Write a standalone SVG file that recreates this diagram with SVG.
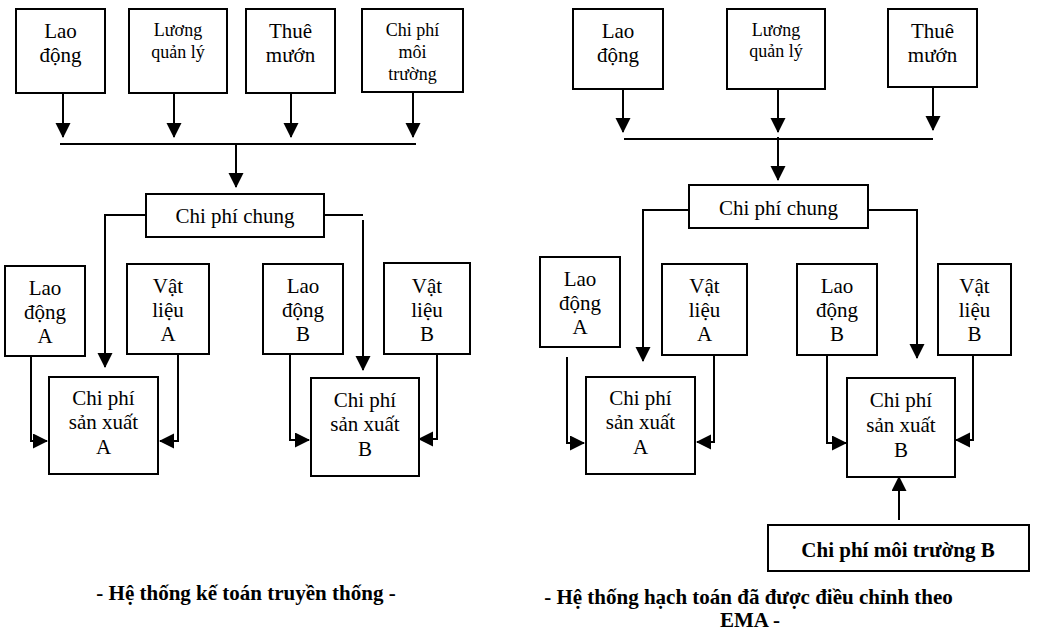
<svg xmlns="http://www.w3.org/2000/svg" width="1038" height="632" viewBox="0 0 1038 632" font-family="'Liberation Serif', 'Times New Roman', Tinos, 'DejaVu Serif', serif">
<style>
.box{fill:#fff;stroke:#000;stroke-width:2}
.ln{fill:none;stroke:#000;stroke-width:2}
.arr{marker-end:url(#ah)}
text{font-family:'Liberation Serif', 'Times New Roman', Tinos, 'DejaVu Serif', serif;fill:#000;text-anchor:middle}
.t21{font-size:21px}
.t18{font-size:18px}
.b{font-size:21px;font-weight:bold}
</style>
<defs>
<marker id="ah" markerUnits="userSpaceOnUse" markerWidth="16" markerHeight="16" refX="14" refY="7.5" orient="auto">
<path d="M0,0 L15,7.5 L0,15 z" fill="#000"/>
</marker>
</defs>
<rect width="1038" height="632" fill="#fff"/>

<g id="connectors">
<path class="ln arr" d="M63,93 V137"/>
<path class="ln arr" d="M174,93 V137"/>
<path class="ln arr" d="M291,93 V137"/>
<path class="ln arr" d="M413,92 V137"/>
<path class="ln" d="M60,144 H416"/>
<path class="ln arr" d="M236,144 V187"/>
<path class="ln arr" d="M146,215 H105 V367"/>
<path class="ln" d="M324,215 H363"/>
<path class="ln arr" d="M363,220 V370"/>
<path class="ln arr" d="M31,356 V441 H47"/>
<path class="ln arr" d="M178,354 V441 H160"/>
<path class="ln arr" d="M290,354 V440 H309"/>
<path class="ln arr" d="M437,354 V439 H419"/>
<path class="ln arr" d="M623,89 V132"/>
<path class="ln arr" d="M778,89 V132"/>
<path class="ln arr" d="M933,87 V130"/>
<path class="ln" d="M624,139 H933"/>
<path class="ln arr" d="M778,137 V180"/>
<path class="ln arr" d="M689,210 H643 V361"/>
<path class="ln arr" d="M868,210 H917 V358"/>
<path class="ln arr" d="M567,357 V443 H584"/>
<path class="ln arr" d="M714,355 V442 H697"/>
<path class="ln arr" d="M827,355 V443 H846"/>
<path class="ln arr" d="M973,355 V440 H956"/>
<path class="ln arr" d="M899,520 V477"/>
</g>

<g id="l-laodong">
<rect class="box" x="16" y="9" width="89" height="84"/>
<text class="t21" x="60.5" y="38">Lao</text>
<text class="t21" x="60.5" y="62">động</text>
</g>
<g id="l-luong">
<rect class="box" x="129" y="9" width="98" height="84"/>
<text class="t18" x="178" y="36">Lương</text>
<text class="t18" x="178" y="58">quản lý</text>
</g>
<g id="l-thue">
<rect class="box" x="246" y="9" width="89" height="84"/>
<text class="t21" x="290.5" y="38">Thuê</text>
<text class="t21" x="290.5" y="62">mướn</text>
</g>
<g id="l-moitruong">
<rect class="box" x="362" y="9" width="101" height="83"/>
<text class="t18" x="412.5" y="36">Chi phí</text>
<text class="t18" x="412.5" y="58">môi</text>
<text class="t18" x="412.5" y="80">trường</text>
</g>
<g id="l-chung">
<rect class="box" x="146" y="194" width="178" height="43"/>
<text class="t21" x="235" y="223">Chi phí chung</text>
</g>
<g id="l-ldA">
<rect class="box" x="5" y="266" width="80" height="90"/>
<text class="t21" x="45" y="295">Lao</text>
<text class="t21" x="45" y="319">động</text>
<text class="t21" x="45" y="343">A</text>
</g>
<g id="l-vlA">
<rect class="box" x="127" y="264" width="82" height="90"/>
<text class="t21" x="168" y="293">Vật</text>
<text class="t21" x="168" y="317">liệu</text>
<text class="t21" x="168" y="341">A</text>
</g>
<g id="l-ldB">
<rect class="box" x="263" y="264" width="80" height="90"/>
<text class="t21" x="303" y="293">Lao</text>
<text class="t21" x="303" y="317">động</text>
<text class="t21" x="303" y="341">B</text>
</g>
<g id="l-vlB">
<rect class="box" x="384" y="263" width="86" height="91"/>
<text class="t21" x="427" y="293">Vật</text>
<text class="t21" x="427" y="317">liệu</text>
<text class="t21" x="427" y="341">B</text>
</g>
<g id="l-cpsxA">
<rect class="box" x="49" y="377" width="109" height="97"/>
<text class="t21" x="103.5" y="405">Chi phí</text>
<text class="t21" x="103.5" y="429">sản xuất</text>
<text class="t21" x="103.5" y="454">A</text>
</g>
<g id="l-cpsxB">
<rect class="box" x="311" y="378" width="108" height="98"/>
<text class="t21" x="365" y="407">Chi phí</text>
<text class="t21" x="365" y="431">sản xuất</text>
<text class="t21" x="365" y="456">B</text>
</g>
<g id="l-caption">
<text class="b" x="246" y="600">- Hệ thống kế toán truyền thống -</text>
</g>

<g id="r-laodong">
<rect class="box" x="573" y="9" width="90" height="80"/>
<text class="t21" x="618" y="38">Lao</text>
<text class="t21" x="618" y="62">động</text>
</g>
<g id="r-luong">
<rect class="box" x="727" y="9" width="98" height="80"/>
<text class="t18" x="776" y="36">Lương</text>
<text class="t18" x="776" y="57">quản lý</text>
</g>
<g id="r-thue">
<rect class="box" x="888" y="9" width="89" height="78"/>
<text class="t21" x="932.5" y="38">Thuê</text>
<text class="t21" x="932.5" y="62">mướn</text>
</g>
<g id="r-chung">
<rect class="box" x="689" y="185" width="179" height="43"/>
<text class="t21" x="778.5" y="215">Chi phí chung</text>
</g>
<g id="r-ldA">
<rect class="box" x="540" y="257" width="80" height="90"/>
<text class="t21" x="580" y="286">Lao</text>
<text class="t21" x="580" y="310">động</text>
<text class="t21" x="580" y="334">A</text>
</g>
<g id="r-vlA">
<rect class="box" x="662" y="264" width="85" height="91"/>
<text class="t21" x="704.5" y="293">Vật</text>
<text class="t21" x="704.5" y="317">liệu</text>
<text class="t21" x="704.5" y="341">A</text>
</g>
<g id="r-ldB">
<rect class="box" x="797" y="264" width="80" height="91"/>
<text class="t21" x="837" y="293">Lao</text>
<text class="t21" x="837" y="317">động</text>
<text class="t21" x="837" y="341">B</text>
</g>
<g id="r-vlB">
<rect class="box" x="938" y="264" width="73" height="91"/>
<text class="t21" x="974.5" y="293">Vật</text>
<text class="t21" x="974.5" y="317">liệu</text>
<text class="t21" x="974.5" y="341">B</text>
</g>
<g id="r-cpsxA">
<rect class="box" x="586" y="377" width="109" height="97"/>
<text class="t21" x="640.5" y="405">Chi phí</text>
<text class="t21" x="640.5" y="429">sản xuất</text>
<text class="t21" x="640.5" y="454">A</text>
</g>
<g id="r-cpsxB">
<rect class="box" x="847" y="378" width="108" height="99"/>
<text class="t21" x="901" y="407">Chi phí</text>
<text class="t21" x="901" y="432">sản xuất</text>
<text class="t21" x="901" y="457">B</text>
</g>
<g id="r-moitruongB">
<rect class="box" x="768" y="525" width="261" height="46"/>
<text class="b" x="898" y="557">Chi phí môi trường B</text>
</g>
<g id="r-caption">
<text class="b" x="748.5" y="604">- Hệ thống hạch toán đã được điều chỉnh theo</text>
<text class="b" x="750" y="627">EMA -</text>
</g>
</svg>
